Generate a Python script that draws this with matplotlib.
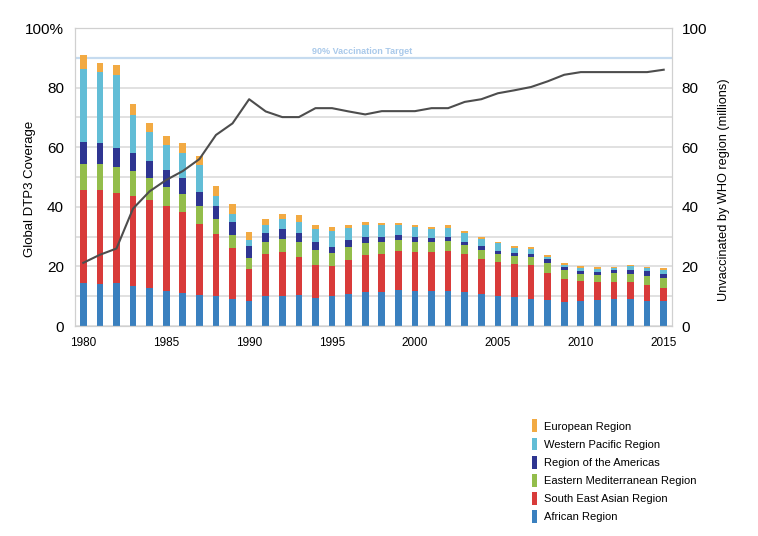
import matplotlib.pyplot as plt
import numpy as np
from matplotlib.patches import Patch

plt.rcParams['font.family'] = ['Liberation Sans', 'DejaVu Sans']

years = np.arange(1980, 2016)

# unvaccinated children by WHO region (millions), bottom to top
african = [14.5, 14.0, 14.4, 13.5, 12.8, 11.7, 11.2, 10.4, 9.9, 9.2,
           8.3, 9.9, 9.9, 10.3, 9.5, 9.9, 10.8, 11.4, 11.5, 12.1,
           11.6, 11.9, 11.8, 11.4, 10.9, 10.2, 9.7, 9.2, 8.7, 8.1,
           8.5, 8.7, 9.0, 9.1, 8.5, 8.3]
south_east_asian = [31.2, 31.5, 30.3, 30.1, 29.5, 28.5, 26.9, 23.9, 21.1, 17.1,
                    10.8, 14.2, 14.8, 13.0, 11.0, 10.4, 11.4, 12.3, 12.6, 13.2,
                    13.4, 13.1, 13.3, 12.6, 11.5, 11.3, 11.1, 11.2, 9.2, 7.8,
                    6.6, 5.9, 5.7, 5.5, 5.2, 4.6]
eastern_med = [8.8, 8.8, 8.5, 8.4, 7.5, 6.4, 6.1, 5.9, 4.8, 4.3,
               3.6, 4.0, 4.4, 4.8, 4.9, 4.1, 4.2, 4.1, 4.1, 3.7,
               3.3, 3.2, 3.3, 3.2, 3.1, 2.7, 2.7, 2.7, 3.4, 2.9,
               2.4, 2.5, 3.2, 3.0, 3.1, 3.1]
americas = [7.2, 7.0, 6.4, 6.1, 5.5, 5.6, 5.5, 4.8, 4.5, 4.3,
            4.1, 3.0, 3.4, 3.0, 2.7, 2.2, 2.4, 2.2, 1.8, 1.4,
            1.5, 1.4, 1.4, 1.1, 1.2, 1.0, 0.9, 1.1, 1.1, 1.0,
            1.1, 1.0, 0.9, 1.3, 1.5, 1.5]
western_pacific = [24.4, 23.8, 24.7, 12.8, 9.8, 8.4, 8.4, 9.1, 3.3, 2.7,
                   2.1, 2.7, 3.4, 3.9, 4.4, 5.2, 4.1, 4.0, 3.9, 3.5,
                   3.3, 3.0, 3.2, 2.8, 2.5, 2.6, 1.9, 1.7, 0.9, 0.7,
                   1.0, 1.0, 0.7, 1.3, 1.0, 1.3]
european = [4.9, 3.3, 3.4, 3.6, 3.0, 3.0, 3.3, 3.1, 3.3, 3.5,
            2.8, 2.2, 1.8, 2.4, 1.3, 1.3, 1.1, 0.9, 0.8, 0.7,
            0.8, 0.7, 0.8, 0.9, 0.8, 0.5, 0.6, 0.5, 0.6, 0.6,
            0.6, 0.6, 0.4, 0.4, 0.5, 0.6]

# global DTP3 coverage (%)
coverage = [21.2, 23.9, 26.0, 39.4, 45.2, 49.0, 52.0, 56.0, 64.1, 68.0,
            76.1, 72.0, 70.1, 70.1, 73.1, 73.1, 72.0, 71.0, 72.1, 72.1,
            72.1, 73.1, 73.1, 75.2, 76.1, 78.1, 79.1, 80.2, 82.1, 84.3,
            85.2, 85.2, 85.2, 85.2, 85.2, 86.0]

regions = [african, south_east_asian, eastern_med, americas, western_pacific, european]
names = ['African Region', 'South East Asian Region', 'Eastern Mediterranean Region',
         'Region of the Americas', 'Western Pacific Region', 'European Region']
colors = ['#3a80bf', '#d83b3a', '#93bd4b', '#2e3591', '#62bdd6', '#f2aa43']

fig = plt.figure(figsize=(7.58, 5.36), dpi=100)
ax2 = fig.add_axes([75/758, 1 - 326/536, (672-75)/758, (326-28)/536])
ax = ax2.twinx()

# bars on ax2 (drawn below), line on ax (on top)
bottom = np.zeros(len(years))
for vals, c in zip(regions, colors):
    ax2.bar(years, vals, 0.4, bottom=bottom, color=c, zorder=2)
    bottom += np.array(vals)

ax2.set_ylim(0, 100)
ax2.set_xlim(1979.5, 2015.5)
ax2.yaxis.grid(True, color='#dcdcdc', linewidth=1.2, zorder=0)
ax2.set_axisbelow(True)
ax2.axhline(90, color='#c6dbef', linewidth=1.6, zorder=1)
ax2.text(1996.8, 92.0, '90% Vaccination Target', color='#a9c9ea', fontsize=6.5,
         fontweight='bold', ha='center', va='center')

ax.plot(years, coverage, color='#4d4d4d', linewidth=1.5)
ax.set_ylim(0, 100)

# left axis labels (coverage), right axis labels (millions)
ax2.yaxis.tick_left()
ax2.set_yticks(np.arange(0, 101, 10))
ax2.set_yticklabels(['0', '', '20', '', '40', '', '60', '', '80', '', '100%'], fontsize=11)
ax2.set_ylabel('Global DTP3 Coverage', fontsize=9.5)
ax2.yaxis.set_label_coords(-0.065, 0.46)
ax.yaxis.tick_right()
ax.set_yticks(np.arange(0, 101, 20))
ax.set_yticklabels(['0', '20', '40', '60', '80', '100'], fontsize=11)
ax.yaxis.set_label_position('right')
ax.set_ylabel('Unvaccinated by WHO region (millions)', fontsize=9.2)
ax.yaxis.set_label_coords(1.077, 0.456)

ax2.set_xticks(np.arange(1980, 2016, 5))
ax2.set_xticklabels([str(y) for y in range(1980, 2016, 5)], fontsize=8.5)

for a in (ax, ax2):
    a.tick_params(length=0)
    for s in a.spines.values():
        s.set_color('#d0d0d0')
ax2.tick_params(axis='y', pad=8)
ax.tick_params(axis='y', pad=7)
ax2.tick_params(axis='x', pad=8)

handles = [Patch(facecolor=c) for c in colors][::-1]
fig.legend(handles, names[::-1], loc='upper left', bbox_to_anchor=(528/758, 1 - 415/536),
           frameon=False, fontsize=8, handlelength=0.45, handleheight=1.4,
           handletextpad=0.6, labelspacing=0.48, borderaxespad=0)

fig.savefig('out.png', dpi=100)
